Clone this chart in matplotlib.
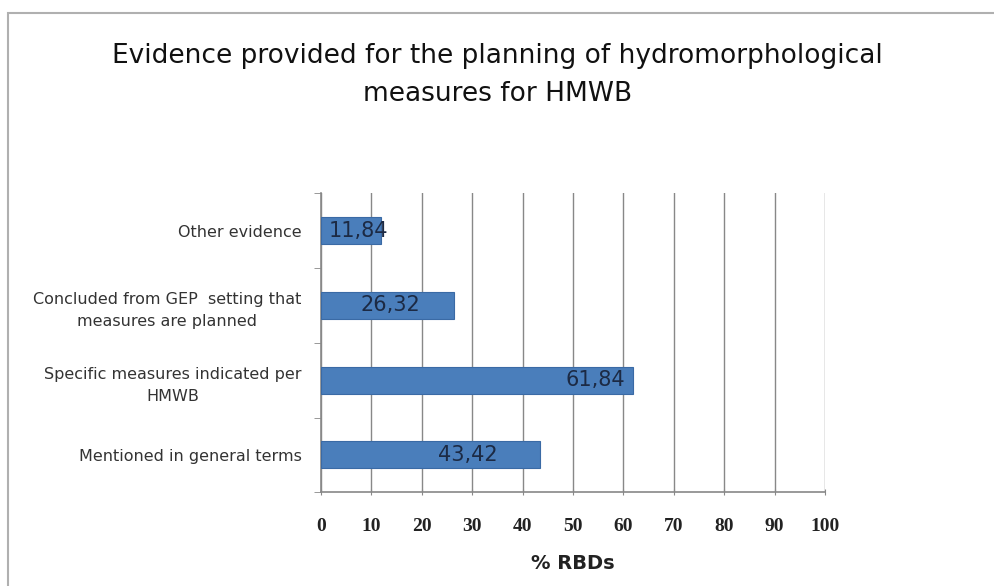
import matplotlib.pyplot as plt
from matplotlib.patches import Rectangle

# data, bottom to top
categories = ["Mentioned in general terms",
              "Specific measures indicated per\nHMWB",
              "Concluded from GEP  setting that\nmeasures are planned",
              "Other evidence"]
values = [43.42, 61.84, 26.32, 11.84]
value_labels = ["43,42", "61,84", "26,32", "11,84"]
xticks = [0, 10, 20, 30, 40, 50, 60, 70, 80, 90, 100]

fig = plt.figure(figsize=(9.95, 5.86), dpi=100)
fig.patches.append(Rectangle((0.008, -0.1), 1.1, 1.078, transform=fig.transFigure,
                             fill=False, edgecolor="#b0b0b0", linewidth=1.5))

ax = fig.add_axes([0.3226, 0.16, 0.5065, 0.51])
y = range(len(categories))
ax.barh(y, values, height=0.36, color="#4a7ebb", edgecolor="#3a6aa5", linewidth=0.8, zorder=3)

# label positions inside bars (fraction of bar length), as in the original
label_frac = [0.67, 0.88, 0.52, 0.62]
for i, (v, lab) in enumerate(zip(values, value_labels)):
    ax.text(v * label_frac[i], i, lab, ha="center", va="center",
            fontsize=15, color="#1c2a44", zorder=4)

ax.set_xlim(0, 100)
ax.set_ylim(-0.5, len(categories) - 0.5)
ax.set_xticks(xticks)
ax.set_xticklabels([str(t) for t in xticks], fontsize=14, fontweight="bold",
                   family="Liberation Serif", color="#222222")
ax.set_yticks(list(y))
ax.set_yticklabels(categories, fontsize=11.5, color="#333333",
                   multialignment="center", linespacing=1.6)
ax.set_yticks([i + 0.5 for i in range(-1, len(categories))], minor=True)
ax.tick_params(axis="y", which="major", length=0, pad=14)
ax.tick_params(axis="y", which="minor", length=5, color="#888888", direction="out")
ax.tick_params(axis="x", length=5, color="#888888", direction="inout", pad=16)

ax.grid(axis="x", color="#888888", linewidth=1.0, zorder=0)
for s in ["top", "right"]:
    ax.spines[s].set_visible(False)
ax.spines["left"].set_color("#888888")
ax.spines["bottom"].set_color("#888888")
ax.spines["left"].set_linewidth(1.2)
ax.spines["bottom"].set_linewidth(1.2)

ax.set_xlabel("% RBDs", fontsize=14, fontweight="bold", labelpad=14, color="#222222")

fig.text(0.5, 0.905, "Evidence provided for the planning of hydromorphological",
         ha="center", va="center", fontsize=19, fontweight="medium", color="#111111")
fig.text(0.5, 0.84, "measures for HMWB",
         ha="center", va="center", fontsize=19, fontweight="medium", color="#111111")

fig.savefig("out.png", dpi=100, facecolor="white")
